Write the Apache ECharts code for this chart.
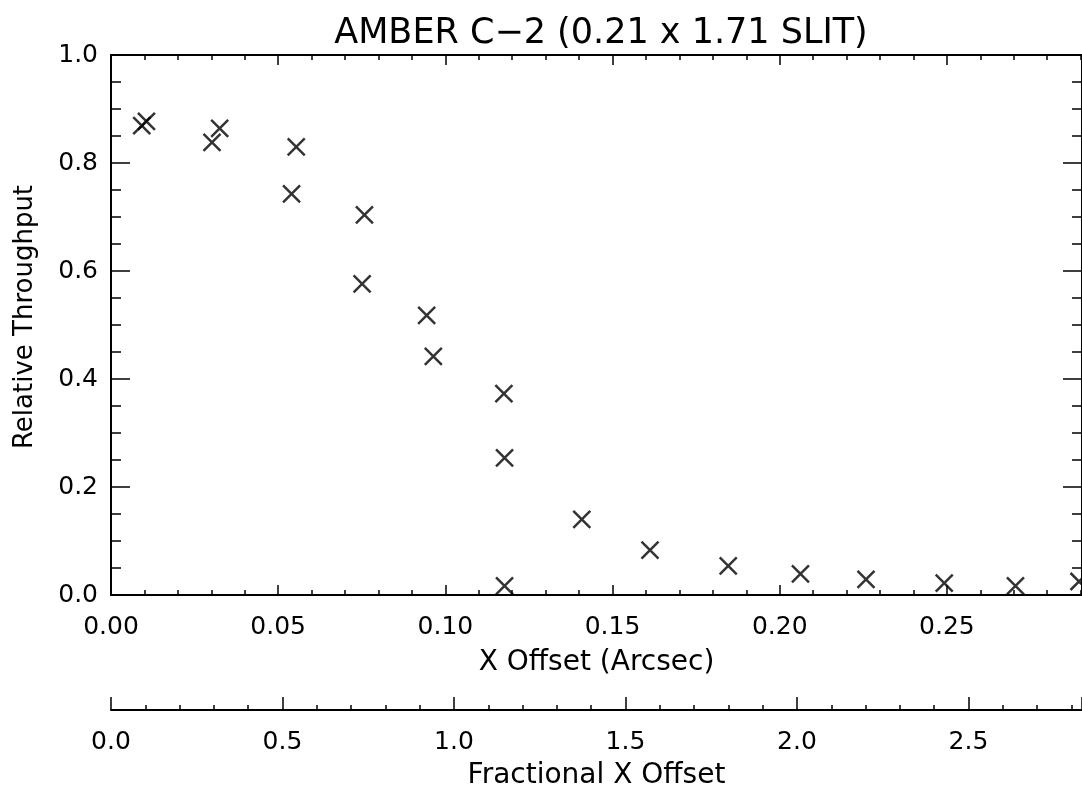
<!DOCTYPE html>
<html>
<head>
<meta charset="utf-8">
<script src="https://cdn.jsdelivr.net/npm/echarts@6/dist/echarts.min.js"></script>
<style>
  html, body { margin: 0; padding: 0; background: #fff; }
  #chart { width: 1082px; height: 791px; }
</style>
</head>
<body>
<div id="chart"></div>
<script>
var xOffsetArcsec = [0.0092, 0.0106, 0.0302, 0.0325, 0.0540, 0.0554, 0.0751, 0.0758,
  0.0944, 0.0964, 0.1175, 0.1177, 0.1177, 0.1408, 0.1612, 0.1846, 0.2062, 0.2258,
  0.2492, 0.2705, 0.2895];
var throughput = [0.869, 0.877, 0.838, 0.864, 0.743, 0.830, 0.576, 0.704,
  0.518, 0.442, 0.373, 0.254, 0.017, 0.140, 0.083, 0.054, 0.039, 0.029,
  0.022, 0.017, 0.025];

var titleText = "AMBER C\u22122 (0.21 x 1.71 SLIT)";
var xName = "X Offset (Arcsec)";
var fracName = "Fractional X Offset";
var yName = "Relative Throughput";

var font = "DejaVu Sans";
var ink = "#000";

var chart = echarts.init(document.getElementById("chart"));

var points = xOffsetArcsec.map(function (x, i) {
  return [x, throughput[i]];
});

var lineStyle = { color: ink, width: 2 };

function frameAxis(extra) {
  var base = {
    type: "value",
    axisLine: { show: true, onZero: false, lineStyle: lineStyle },
    axisTick: { show: true, inside: true, lineStyle: { color: ink, width: 1.5 } },
    minorTick: { show: true, lineStyle: { color: ink, width: 1.5 } },
    splitLine: { show: false },
    axisLabel: { show: false }
  };
  return Object.assign(base, extra);
}

var option = {
  backgroundColor: "#fff",
  animation: false,
  title: {
    text: titleText,
    left: 596,
    top: 11,
    textAlign: "center",
    textStyle: { fontFamily: font, fontSize: 35, fontWeight: "normal", color: ink }
  },
  grid: [
    { left: 111, top: 55, width: 974, height: 540 },
    { left: 111, top: 700, width: 974, height: 10 }
  ],
  xAxis: [
    frameAxis({
      gridIndex: 0, position: "bottom", min: 0, max: 0.2904, interval: 0.05,
      axisTick: { show: true, inside: true, length: 10, lineStyle: { color: ink, width: 1.5 } },
      minorTick: { show: true, splitNumber: 5, length: 5, lineStyle: { color: ink, width: 1.5 } },
      axisLabel: {
        show: true, margin: 20, showMaxLabel: false,
        fontFamily: font, fontSize: 25, color: ink,
        formatter: function (v) { return v.toFixed(2); }
      },
      name: xName, nameLocation: "middle", nameGap: 54,
      nameTextStyle: { fontFamily: font, fontSize: 28, color: ink }
    }),
    frameAxis({
      gridIndex: 0, position: "top", min: 0, max: 0.2904, interval: 0.05,
      axisTick: { show: true, inside: true, length: 10, lineStyle: { color: ink, width: 1.5 } },
      minorTick: { show: true, splitNumber: 5, length: 5, lineStyle: { color: ink, width: 1.5 } }
    }),
    frameAxis({
      gridIndex: 1, position: "bottom", min: 0, max: 2.831, interval: 0.5,
      axisTick: { show: true, inside: true, length: 13, lineStyle: { color: ink, width: 1.5 } },
      minorTick: { show: true, splitNumber: 5, length: 5, lineStyle: { color: ink, width: 1.5 } },
      axisLabel: {
        show: true, margin: 20, showMaxLabel: false,
        fontFamily: font, fontSize: 25, color: ink,
        formatter: function (v) { return v.toFixed(1); }
      },
      name: fracName, nameLocation: "middle", nameGap: 52,
      nameTextStyle: { fontFamily: font, fontSize: 28, color: ink }
    })
  ],
  yAxis: [
    frameAxis({
      gridIndex: 0, position: "left", min: 0, max: 1, interval: 0.2,
      axisTick: { show: true, inside: true, length: 19, lineStyle: { color: ink, width: 1.5 } },
      minorTick: { show: true, splitNumber: 4, length: 10, lineStyle: { color: ink, width: 1.5 } },
      axisLabel: {
        show: true, margin: 13,
        fontFamily: font, fontSize: 25, color: ink,
        formatter: function (v) { return v.toFixed(1); }
      },
      name: yName, nameLocation: "middle", nameGap: 73,
      nameTextStyle: { fontFamily: font, fontSize: 26, color: ink, padding: [0, 0, 0, 16] }
    }),
    frameAxis({
      gridIndex: 0, position: "right", min: 0, max: 1, interval: 0.2,
      axisTick: { show: true, inside: true, length: 19, lineStyle: { color: ink, width: 1.5 } },
      minorTick: { show: true, splitNumber: 4, length: 10, lineStyle: { color: ink, width: 1.5 } }
    }),
    { type: "value", gridIndex: 1, show: false, min: 0, max: 1 }
  ],
  series: [
    {
      type: "scatter",
      xAxisIndex: 0,
      yAxisIndex: 0,
      data: points,
      symbol: "path://M0,0L20,20M20,0L0,20",
      symbolSize: 17,
      itemStyle: { color: "transparent", borderColor: ink, borderWidth: 2.5 },
      emphasis: { disabled: true },
      silent: true
    }
  ]
};

chart.setOption(option);
</script>
</body>
</html>
